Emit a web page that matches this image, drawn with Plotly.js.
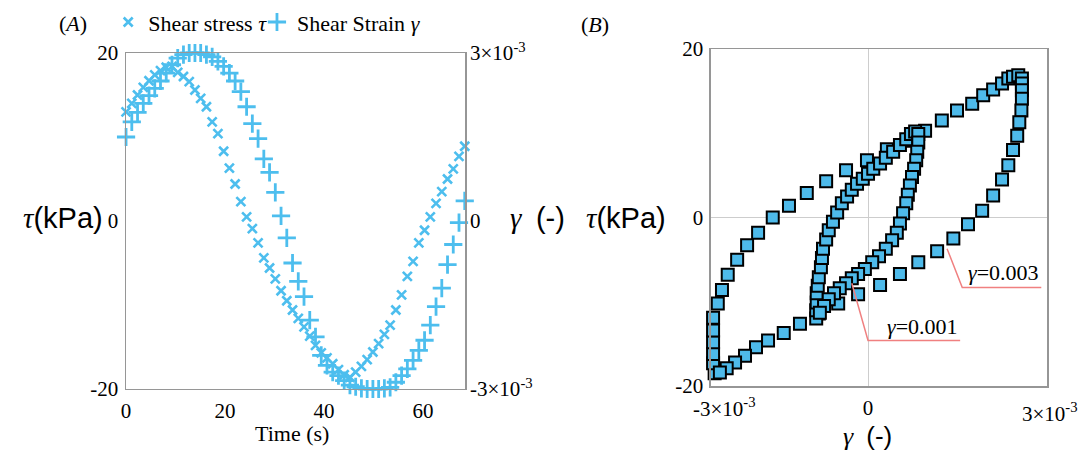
<!DOCTYPE html>
<html>
<head>
<meta charset="utf-8">
<script src="https://cdn.plot.ly/plotly-3.0.1.min.js"></script>
<style>html,body{margin:0;padding:0;background:#fff;}#chart{width:1082px;height:453px;}</style>
</head>
<body>
<div id="chart"></div>
<script>
// ---- Panel (A): time series ----
const timeS = [0,1.16,2.32,3.48,4.64,5.8,6.96,8.12,9.28,10.44,11.6,12.76,13.92,15.08,16.24,17.4,18.56,19.72,20.88,22.04,23.2,24.36,25.52,26.68,27.84,29.0,30.16,31.32,32.48,33.64,34.8,35.96,37.12,38.28,39.44,40.6,41.76,42.92,44.08,45.24,46.4,47.56,48.72,49.88,51.04,52.2,53.36,54.52,55.68,56.84,58.0,59.16,60.32,61.48,62.64,63.8,64.96,66.12,67.28,68.44];
const shearStress = [13.0,14.0,15.0,15.9,16.7,17.4,17.9,18.3,18.4,17.7,17.2,16.6,15.6,14.6,13.6,11.8,10.4,8.3,6.3,4.4,2.3,0.5,-0.9,-2.6,-4.4,-5.6,-6.9,-8.3,-9.5,-10.6,-11.6,-12.6,-13.7,-14.8,-15.7,-16.3,-17.0,-17.7,-18.3,-18.6,-18.0,-17.3,-16.5,-15.6,-14.6,-13.5,-12.4,-10.6,-8.8,-6.6,-4.8,-2.6,-1.1,0.5,2.1,3.5,5.0,6.2,7.7,8.9];
// shear strain in units of 1e-3
const shearStrainE3 = [1.50,1.77,1.94,2.10,2.24,2.37,2.50,2.64,2.79,2.91,2.97,3.00,3.00,3.00,2.97,2.93,2.85,2.76,2.64,2.50,2.31,2.04,1.74,1.47,1.11,0.87,0.51,0.09,-0.30,-0.75,-1.08,-1.35,-1.77,-2.07,-2.40,-2.58,-2.70,-2.76,-2.85,-2.93,-2.96,-2.99,-3.00,-3.00,-3.00,-2.99,-2.97,-2.88,-2.76,-2.64,-2.49,-2.31,-2.13,-1.86,-1.53,-1.20,-0.78,-0.42,-0.03,0.36];

// ---- Panel (B): hysteresis loops (strain in 1e-3, stress in kPa) ----
const loop003Strain = [-2.93,-2.96,-2.96,-2.96,-2.96,-2.96,-2.87,-2.79,-2.68,-2.50,-2.31,-2.10,-1.82,-1.51,-1.17,-0.80,-0.42,-0.02,0.36,0.75,1.09,1.41,1.70,1.99,2.20,2.39,2.56,2.68,2.77,2.87,2.94,2.94,2.94,2.94,2.93,2.89,2.85,2.77,2.68,2.56,2.39,2.18,1.91,1.63,1.32,0.96,0.61,0.23,-0.19,-0.57,-0.94,-1.30,-1.61,-1.91,-2.14,-2.35,-2.54,-2.70,-2.83];
const loop003Stress = [-18.5,-17.3,-16.2,-14.8,-13.4,-11.9,-10.2,-8.6,-6.8,-5.0,-3.3,-1.8,0.0,1.4,2.9,4.3,5.6,6.8,8.1,9.1,10.3,11.5,12.7,13.5,14.5,15.2,15.9,16.5,16.7,16.9,16.5,15.9,15.1,14.1,12.7,11.3,9.7,8.0,6.2,4.5,2.6,0.8,-0.8,-2.5,-4.0,-5.3,-6.7,-8.0,-9.1,-10.2,-11.4,-12.6,-13.7,-14.6,-15.4,-16.4,-17.2,-17.9,-18.4];
const loop001Strain = [-0.99,-0.99,-0.98,-0.98,-0.96,-0.94,-0.90,-0.88,-0.86,-0.80,-0.75,-0.67,-0.59,-0.50,-0.40,-0.31,-0.21,-0.10,0.00,0.10,0.23,0.34,0.48,0.61,0.73,0.82,0.90,0.96,0.96,0.94,0.92,0.88,0.84,0.80,0.76,0.73,0.67,0.61,0.55,0.46,0.34,0.21,0.08,-0.06,-0.19,-0.31,-0.42,-0.54,-0.65,-0.75,-0.84,-0.92];
const loop001Stress = [-12.0,-11.0,-10.1,-9.0,-8.1,-7.1,-5.9,-4.8,-3.7,-2.6,-1.5,-0.5,0.6,1.7,2.5,3.3,4.0,4.6,5.2,5.8,6.4,7.1,7.8,8.6,9.3,9.9,10.2,9.9,8.9,7.8,6.8,5.8,4.8,3.8,2.7,1.7,0.5,-0.7,-1.8,-2.7,-3.7,-4.6,-5.3,-6.1,-6.7,-7.2,-7.8,-8.4,-9.0,-9.7,-10.5,-11.3];

const stressTicks = [-20, 0, 20];
const stressTickText = ['-20', '0', '20'];
const strainTicks = [-3, 0, 3];
const strainTickText = ['-3×10<sup>-3</sup>', '0', '3×10<sup>-3</sup>'];
const timeTicks = [0, 20, 40, 60];

const blue = 'rgb(77,190,238)';
const serif = 'Liberation Serif';
const frame = 'rgb(150,150,150)';

const traces = [
  {x: timeS, y: shearStress, xaxis: 'x', yaxis: 'y', type: 'scatter', mode: 'markers',
   name: 'Shear stress <i>τ</i>', cliponaxis: false, legend: 'legend',
   marker: {symbol: 'x-thin', size: 9, color: blue, line: {color: blue, width: 2.6}}},
  {x: timeS, y: shearStrainE3, xaxis: 'x', yaxis: 'y2', type: 'scatter', mode: 'markers',
   name: 'Shear Strain <i>γ</i>', cliponaxis: false, legend: 'legend2',
   marker: {symbol: 'cross-thin', size: 13, color: blue, line: {color: blue, width: 2.8}}},
  {x: loop003Strain, y: loop003Stress, xaxis: 'x2', yaxis: 'y3', type: 'scatter', mode: 'markers',
   showlegend: false, cliponaxis: false,
   marker: {symbol: 'square', size: 12, color: 'rgb(78,186,234)', line: {color: '#000', width: 2}}},
  {x: loop001Strain, y: loop001Stress, xaxis: 'x2', yaxis: 'y3', type: 'scatter', mode: 'markers',
   showlegend: false, cliponaxis: false,
   marker: {symbol: 'square', size: 12, color: 'rgb(78,186,234)', line: {color: '#000', width: 2}}}
];

function axBase(extra) {
  return Object.assign({showgrid: false, zeroline: false, ticks: '', showline: true, linecolor: frame, linewidth: 1.5,
    tickfont: {family: serif, size: 21, color: '#000'}}, extra);
}

function note(text, x, y, size, extra) {
  return Object.assign({text: text, xref: 'paper', yref: 'paper', x: x, y: y, xanchor: 'center', yanchor: 'middle',
    showarrow: false, font: {family: serif, size: size, color: '#000'}}, extra || {});
}

function legendBox(x) {
  return {orientation: 'h', x: x, y: 0.951, xanchor: 'left', yanchor: 'middle',
    font: {family: serif, size: 22, color: '#000'}, bgcolor: 'rgba(0,0,0,0)', itemwidth: 30};
}

const tauLabel = '<i>τ</i><span style="font-family:Liberation Sans">(kPa)</span>';
const gamLabel = '<i>γ</i>  <span style="font-family:Liberation Sans">(-)</span>';

const layout = {
  width: 1082, height: 453,
  margin: {l: 0, r: 0, t: 0, b: 0},
  paper_bgcolor: '#fff', plot_bgcolor: '#fff',
  font: {family: serif, size: 21, color: '#000'},
  showlegend: true,
  legend: legendBox(0.1),
  legend2: legendBox(0.2375),
  xaxis: axBase({domain: [0.1165, 0.4298], range: [0, 68.5], anchor: 'y',
    tickvals: timeTicks, mirror: true, ticklabelstandoff: 2}),
  yaxis: axBase({domain: [0.1413, 0.883], range: [-20, 20], anchor: 'x',
    tickvals: stressTicks, ticktext: stressTickText, mirror: true, ticklabelstandoff: 2}),
  yaxis2: axBase({overlaying: 'y', side: 'right', anchor: 'x', range: [-3, 3],
    tickvals: strainTicks, ticktext: strainTickText, showline: false, ticklabelstandoff: 4}),
  xaxis2: axBase({domain: [0.6571, 0.9677], range: [-3, 3.42], anchor: 'y3',
    tickvals: [0], ticktext: ['0'], mirror: true, zeroline: true, zerolinecolor: 'rgb(205,205,205)', zerolinewidth: 1,
    ticklabelstandoff: 2}),
  yaxis3: axBase({domain: [0.1479, 0.8918], range: [-20, 20], anchor: 'x2',
    tickvals: stressTicks, ticktext: stressTickText, mirror: true, zeroline: true,
    zerolinecolor: 'rgb(205,205,205)', zerolinewidth: 1, ticklabelstandoff: 2}),
  shapes: [
    {type: 'path', xref: 'x2', yref: 'y3', path: 'M 1.51 -3.7 L 1.80 -8.3 L 3.31 -8.3',
     line: {color: 'rgb(240,128,128)', width: 1.5}},
    {type: 'path', xref: 'x2', yref: 'y3', path: 'M -0.31 -7.8 L 0 -14.6 L 1.76 -14.6',
     line: {color: 'rgb(240,128,128)', width: 1.5}}
  ],
  annotations: [
    note('(<i>A</i>)', 0.0675, 0.949, 22),
    note('(<i>B</i>)', 0.550, 0.945, 22),
    note(tauLabel, 0.058, 0.519, 29),
    note(gamLabel, 0.497, 0.519, 29),
    note('Time (s)', 0.270, 0.043, 22),
    note(tauLabel, 0.5786, 0.519, 29),
    note(gamLabel, 0.802, 0.037, 26),
    note(strainTickText[0], 0.670, 0.1015, 21),
    note(strainTickText[2], 0.970, 0.0905, 21),
    {text: '<i>γ</i>=0.003', xref: 'x2', yref: 'y3', x: 3.31, y: -8.3, xanchor: 'right', yanchor: 'bottom',
     showarrow: false, font: {family: serif, size: 22, color: '#000'}},
    {text: '<i>γ</i>=0.001', xref: 'x2', yref: 'y3', x: 1.76, y: -14.6, xanchor: 'right', yanchor: 'bottom',
     showarrow: false, font: {family: serif, size: 22, color: '#000'}}
  ]
};

Plotly.newPlot('chart', traces, layout, {staticPlot: true, displayModeBar: false});
</script>
</body>
</html>
